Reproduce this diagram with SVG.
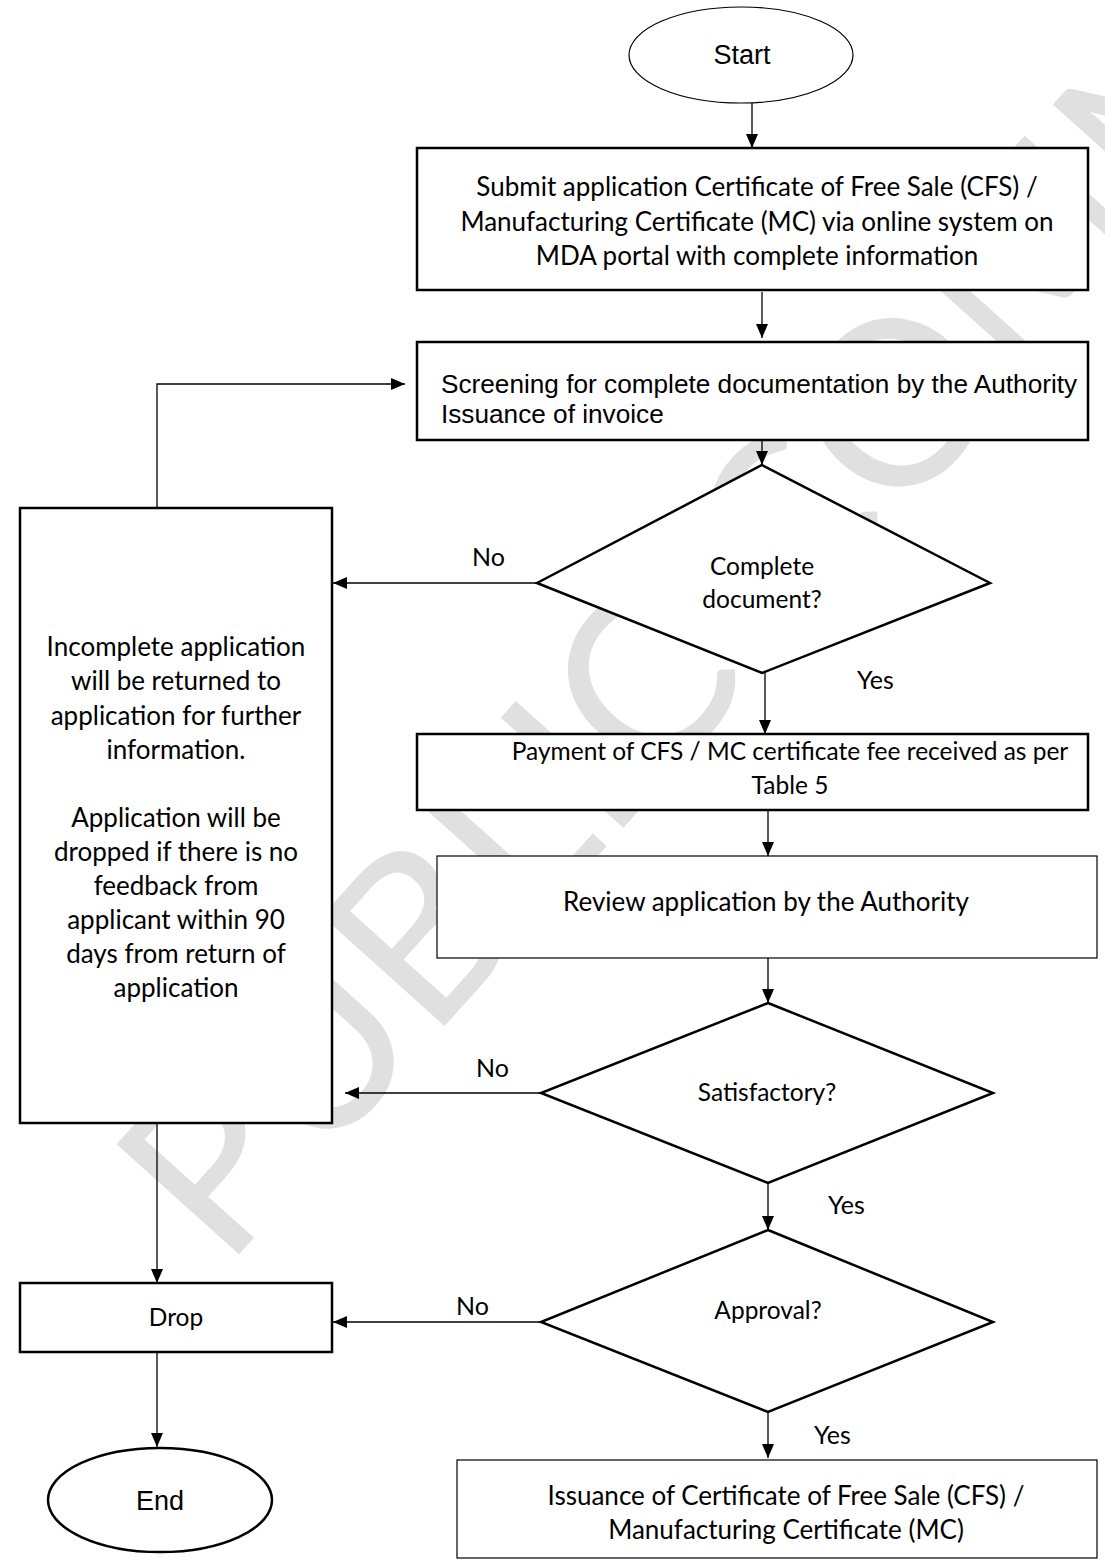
<svg xmlns="http://www.w3.org/2000/svg" width="1105" height="1564" viewBox="0 0 1105 1564">
  <defs>
    <marker id="arr" viewBox="0 0 14 12" refX="14" refY="6" markerWidth="14" markerHeight="12" markerUnits="userSpaceOnUse" orient="auto">
      <path d="M0,0 L14,6 L0,12 Z" fill="#000"/>
    </marker>
    <style>
      .thick { fill: #fff; stroke: #000; stroke-width: 2.5; }
      .thin { fill: #fff; stroke: #000; stroke-width: 1.2; }
      .conn { fill: none; stroke: #000; stroke-width: 1.3; marker-end: url(#arr); }
      .cal { font-family: Lato, "Open Sans", sans-serif; font-size: 26px; fill: #000; text-anchor: middle; }
      .dia { font-family: Lato, "Open Sans", sans-serif; font-size: 24.5px; fill: #000; text-anchor: middle; }
      .lbl { font-family: Lato, "Open Sans", sans-serif; font-size: 25px; fill: #000; }
      .ar { font-family: "Liberation Sans", Arial, sans-serif; fill: #000; }
      .wm { font-family: Lato, "Open Sans", sans-serif; font-size: 230px; fill: #e0e0e0; }
    </style>
  </defs>
  <rect width="1105" height="1564" fill="#fff"/>
  <text class="wm" transform="translate(225,1270) rotate(-48)">PUBLIC COMMENT</text>

  <g id="connectors">
    <line class="conn" x1="752" y1="103" x2="752" y2="148"/>
    <line class="conn" x1="762" y1="292" x2="762" y2="338"/>
    <polyline class="conn" points="157,508 157,384 405,384"/>
    <line class="conn" x1="762" y1="440" x2="762" y2="465"/>
    <line class="conn" x1="537" y1="583" x2="333" y2="583"/>
    <line class="conn" x1="765" y1="673" x2="765" y2="734"/>
    <line class="conn" x1="768" y1="810" x2="768" y2="856"/>
    <line class="conn" x1="768" y1="958" x2="768" y2="1003"/>
    <line class="conn" x1="541" y1="1093" x2="345" y2="1093"/>
    <line class="conn" x1="768" y1="1183" x2="768" y2="1230"/>
    <line class="conn" x1="541" y1="1322" x2="333" y2="1322"/>
    <line class="conn" x1="157" y1="1123" x2="157" y2="1283"/>
    <line class="conn" x1="157" y1="1352" x2="157" y2="1447"/>
    <line class="conn" x1="768" y1="1412" x2="768" y2="1458"/>
  </g>

  <g id="start">
    <ellipse class="thin" cx="741" cy="55" rx="112" ry="48"/>
    <text class="ar" x="742" y="64" font-size="27" text-anchor="middle">Start</text>
  </g>

  <g id="submit">
    <rect class="thick" x="417" y="148" width="671" height="142"/>
    <text class="cal" x="757" y="196">Submit application Certificate of Free Sale (CFS) /</text>
    <text class="cal" x="757" y="231">Manufacturing Certificate (MC) via online system on</text>
    <text class="cal" x="757" y="265">MDA portal with complete information</text>
  </g>

  <g id="screening">
    <rect class="thick" x="417" y="342" width="671" height="98"/>
    <text class="ar" x="441" y="393" font-size="26.2">Screening for complete documentation by the Authority</text>
    <text class="ar" x="441" y="423" font-size="26.2">Issuance of invoice</text>
  </g>

  <g id="complete">
    <polygon class="thick" points="762,465 990,583 762,673 537,583"/>
    <text class="dia" x="762" y="575">Complete</text>
    <text class="dia" x="762" y="608">document?</text>
  </g>
  <text class="lbl" x="472" y="566">No</text>
  <text class="lbl" x="857" y="689">Yes</text>

  <g id="incomplete">
    <rect class="thick" x="20" y="508" width="312" height="615"/>
    <g font-size="26.5">
      <text class="cal" x="176" y="656" font-size="26.5">Incomplete application</text>
      <text class="cal" x="176" y="690" font-size="26.5">will be returned to</text>
      <text class="cal" x="176" y="725" font-size="26.5">application for further</text>
      <text class="cal" x="176" y="759" font-size="26.5">information.</text>
      <text class="cal" x="176" y="827" font-size="26.5">Application will be</text>
      <text class="cal" x="176" y="861" font-size="26.5">dropped if there is no</text>
      <text class="cal" x="176" y="895" font-size="26.5">feedback from</text>
      <text class="cal" x="176" y="929" font-size="26.5">applicant within 90</text>
      <text class="cal" x="176" y="963" font-size="26.5">days from return of</text>
      <text class="cal" x="176" y="997" font-size="26.5">application</text>
    </g>
  </g>

  <g id="payment">
    <rect class="thick" x="417" y="734" width="671" height="76"/>
    <text class="cal" x="790" y="760" style="font-size:24.5px">Payment of CFS / MC certificate fee received as per</text>
    <text class="cal" x="790" y="794" style="font-size:24.5px">Table 5</text>
  </g>

  <g id="review">
    <rect class="thin" x="437" y="856" width="660" height="102"/>
    <text class="cal" x="766" y="911">Review application by the Authority</text>
  </g>

  <g id="satisfactory">
    <polygon class="thick" points="768,1003 993,1093 768,1183 541,1093"/>
    <text class="dia" x="767" y="1101">Satisfactory?</text>
  </g>
  <text class="lbl" x="476" y="1077">No</text>
  <text class="lbl" x="828" y="1214">Yes</text>

  <g id="approval">
    <polygon class="thick" points="768,1230 993,1322 768,1412 541,1322"/>
    <text class="dia" x="768" y="1319">Approval?</text>
  </g>
  <text class="lbl" x="456" y="1315">No</text>
  <text class="lbl" x="814" y="1444">Yes</text>

  <g id="drop">
    <rect class="thick" x="20" y="1283" width="312" height="69"/>
    <text class="dia" x="176" y="1326">Drop</text>
  </g>

  <g id="end">
    <ellipse class="thick" cx="160" cy="1500" rx="112" ry="52"/>
    <text class="ar" x="160" y="1510" font-size="27" text-anchor="middle">End</text>
  </g>

  <g id="issuance">
    <rect class="thin" x="457" y="1460" width="640" height="98"/>
    <text class="cal" x="786" y="1505">Issuance of Certificate of Free Sale (CFS) /</text>
    <text class="cal" x="786" y="1539">Manufacturing Certificate (MC)</text>
  </g>
</svg>
